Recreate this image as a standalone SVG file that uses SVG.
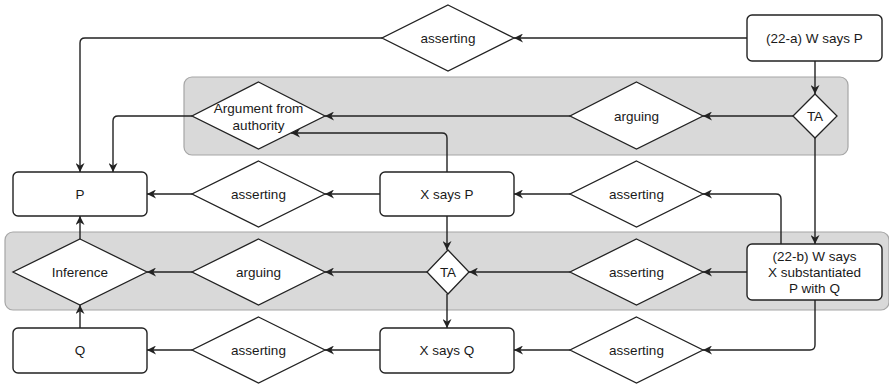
<svg xmlns="http://www.w3.org/2000/svg" width="889" height="386" viewBox="0 0 889 386">
  <style>
    .grp { fill: #d9d9d9; stroke: #a6a6a6; stroke-width: 1.2; }
    .box { fill: #ffffff; stroke: #222222; stroke-width: 1.4; }
    .dia { fill: #ffffff; stroke: #222222; stroke-width: 1.3; }
    .edge { fill: none; stroke: #222222; stroke-width: 1.4; marker-end: url(#arrow); }
    text { font-family: "Liberation Sans", Arial, Helvetica, sans-serif; font-size: 13.5px; fill: #1a1a1a; text-anchor: middle; dominant-baseline: central; }
  </style>
  <defs>
    <marker id="arrow" viewBox="0 0 10 10" refX="10" refY="5" markerWidth="9" markerHeight="9" markerUnits="userSpaceOnUse" orient="auto">
      <path d="M0,0 L10,5 L0,10 L3,5 z" fill="#222222"/>
    </marker>
  </defs>

  <!-- background grouping bands -->
  <g id="band-top">
    <rect class="grp" x="184" y="77" width="664" height="78" rx="8"/>
  </g>
  <g id="band-middle">
    <rect class="grp" x="5" y="232" width="884" height="78" rx="8"/>
  </g>

  <!-- connectors -->
  <g id="connectors">
    <path class="edge" d="M747,38 H514"/>
    <path class="edge" d="M382,38 H85 Q80,38 80,43 V172"/>
    <path class="edge" d="M815,61 V94"/>
    <path class="edge" d="M793,116 H703"/>
    <path class="edge" d="M570,116 H325"/>
    <path class="edge" d="M192,116 H118 Q113,116 113,121 V172"/>
    <path class="edge" d="M447,172 V138 Q447,133 442,133 H291"/>
    <path class="edge" d="M570,194 H514"/>
    <path class="edge" d="M380,194 H325"/>
    <path class="edge" d="M192,194 H147"/>
    <path class="edge" d="M781,244 V199 Q781,194 776,194 H703"/>
    <path class="edge" d="M815,138 V244"/>
    <path class="edge" d="M747,272 H703"/>
    <path class="edge" d="M570,272 H469"/>
    <path class="edge" d="M427,272 H325"/>
    <path class="edge" d="M192,272 H147"/>
    <path class="edge" d="M447,216 V250"/>
    <path class="edge" d="M447,294 V328"/>
    <path class="edge" d="M80,239 V216"/>
    <path class="edge" d="M80,328 V305"/>
    <path class="edge" d="M815,300 V345 Q815,350 810,350 H703"/>
    <path class="edge" d="M570,350 H514"/>
    <path class="edge" d="M380,350 H325"/>
    <path class="edge" d="M192,350 H147"/>
  </g>

  <!-- row 1 -->
  <g id="asserting-a">
    <polygon class="dia" points="448,5 514,38 448,71 382,38"/>
    <text x="448" y="38">asserting</text>
  </g>
  <g id="w-says-p">
    <rect class="box" x="747" y="15" width="135" height="46" rx="5"/>
    <text x="814.5" y="38">(22-a) W says P</text>
  </g>

  <!-- row 2 -->
  <g id="argument-from-authority">
    <polygon class="dia" points="258.5,82 325,116 258.5,149 192,116"/>
    <text x="258.5" y="108">Argument from</text>
    <text x="258.5" y="125">authority</text>
  </g>
  <g id="arguing-a">
    <polygon class="dia" points="636.5,82 703,116 636.5,149 570,116"/>
    <text x="636.5" y="116">arguing</text>
  </g>
  <g id="ta-a">
    <polygon class="dia" points="815,94 837,116 815,138 793,116"/>
    <text x="815" y="116">TA</text>
  </g>

  <!-- row 3 -->
  <g id="p">
    <rect class="box" x="13" y="172" width="134" height="44" rx="5"/>
    <text x="80" y="194">P</text>
  </g>
  <g id="asserting-b">
    <polygon class="dia" points="258.5,161 325,194 258.5,227 192,194"/>
    <text x="258.5" y="194">asserting</text>
  </g>
  <g id="x-says-p">
    <rect class="box" x="380" y="172" width="134" height="44" rx="5"/>
    <text x="447" y="194">X says P</text>
  </g>
  <g id="asserting-c">
    <polygon class="dia" points="636.5,161 703,194 636.5,227 570,194"/>
    <text x="636.5" y="194">asserting</text>
  </g>

  <!-- row 4 -->
  <g id="inference">
    <polygon class="dia" points="80,239 147,272 80,305 13,272"/>
    <text x="80" y="272">Inference</text>
  </g>
  <g id="arguing-b">
    <polygon class="dia" points="258.5,239 325,272 258.5,305 192,272"/>
    <text x="258.5" y="272">arguing</text>
  </g>
  <g id="ta-b">
    <polygon class="dia" points="448,250 469,272 448,294 427,272"/>
    <text x="448" y="272">TA</text>
  </g>
  <g id="asserting-d">
    <polygon class="dia" points="636.5,239 703,272 636.5,305 570,272"/>
    <text x="636.5" y="272">asserting</text>
  </g>
  <g id="w-says-x-substantiated">
    <rect class="box" x="747" y="244" width="135" height="56" rx="5"/>
    <text x="814.5" y="256">(22-b) W says</text>
    <text x="814.5" y="272">X substantiated</text>
    <text x="814.5" y="288">P with Q</text>
  </g>

  <!-- row 5 -->
  <g id="q">
    <rect class="box" x="13" y="328" width="134" height="45" rx="5"/>
    <text x="80" y="350">Q</text>
  </g>
  <g id="asserting-e">
    <polygon class="dia" points="258.5,317 325,350 258.5,383 192,350"/>
    <text x="258.5" y="350">asserting</text>
  </g>
  <g id="x-says-q">
    <rect class="box" x="380" y="328" width="134" height="45" rx="5"/>
    <text x="447" y="350">X says Q</text>
  </g>
  <g id="asserting-f">
    <polygon class="dia" points="636.5,317 703,350 636.5,383 570,350"/>
    <text x="636.5" y="350">asserting</text>
  </g>
</svg>
